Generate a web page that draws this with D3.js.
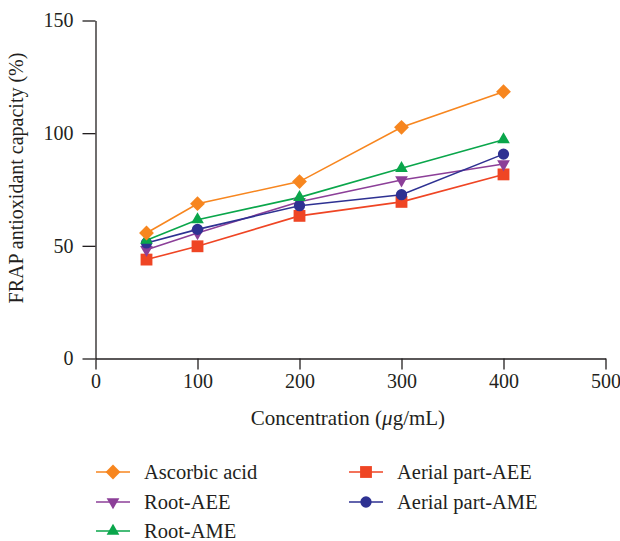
<!DOCTYPE html>
<html><head><meta charset="utf-8">
<script src="https://cdn.jsdelivr.net/npm/d3@7"></script>
<style>body{margin:0;background:#fff}svg{display:block}text{font-family:"Liberation Serif","Times New Roman",serif;fill:#231f20}</style>
</head><body><svg id="c" width="620" height="541"></svg>
<script>
const concentrations = [50, 100, 200, 300, 400];
const seriesNames = ["Ascorbic acid", "Root-AEE", "Root-AME", "Aerial part-AEE", "Aerial part-AME"];
const ascorbicAcid = [55.7, 68.7, 78.5, 102.6, 118.4];
const rootAEE = [48.3, 55.7, 69.6, 79.2, 86.3];
const rootAME = [52.5, 61.6, 71.5, 84.4, 97.1];
const aerialAEE = [43.9, 49.8, 63.3, 69.5, 81.7];
const aerialAME = [51.3, 57.3, 67.8, 72.7, 90.7];
const xTicks = [0, 100, 200, 300, 400, 500];
const yTicks = [0, 50, 100, 150];

const series = [
  {name: seriesNames[0], values: ascorbicAcid, color: "#f7861f", sym: d3.symbolSquare, size: 110, rot: 45},
  {name: seriesNames[1], values: rootAEE, color: "#8c3f98", sym: d3.symbolTriangle, size: 70, rot: 180},
  {name: seriesNames[2], values: rootAME, color: "#0aa64b", sym: d3.symbolTriangle, size: 70, rot: 0},
  {name: seriesNames[3], values: aerialAEE, color: "#ef4524", sym: d3.symbolSquare, size: 140, rot: 0},
  {name: seriesNames[4], values: aerialAME, color: "#2e3192", sym: d3.symbolCircle, size: 100, rot: 0}
];
const drawOrder = [3, 1, 4, 2, 0];

const svg = d3.select("#c");
const x = d3.scaleLinear().domain([0, 500]).range([95.5, 605.5]);
const y = d3.scaleLinear().domain([0, 150]).range([358.5, 20.5]);

const ax = svg.append("g").attr("transform", `translate(0,${y(0)})`)
  .call(d3.axisBottom(x).tickValues(xTicks).tickSize(11).tickSizeOuter(0).tickPadding(4));
const ay = svg.append("g").attr("transform", `translate(${x(0)},0)`)
  .call(d3.axisLeft(y).tickValues(yTicks).tickSize(13).tickSizeOuter(0).tickPadding(9));
[ax, ay].forEach(g => {
  g.select(".domain").attr("stroke", "#231f20").attr("stroke-width", 1.3);
  g.selectAll(".tick line").attr("stroke", "#231f20").attr("stroke-width", 1.3);
  g.selectAll(".tick text").attr("font-size", 20).attr("font-family", "Liberation Serif").attr("fill", "#231f20");
});

const line = d3.line().x((d, i) => x(concentrations[i])).y(d => y(d));
drawOrder.forEach(k => {
  const s = series[k];
  svg.append("path").datum(s.values).attr("d", line).attr("fill", "none")
    .attr("stroke", s.color).attr("stroke-width", 1.6);
});
drawOrder.forEach(k => {
  const s = series[k];
  svg.append("g").selectAll("path").data(s.values).join("path")
    .attr("d", d3.symbol().type(s.sym).size(s.size))
    .attr("transform", (d, i) => `translate(${x(concentrations[i])},${y(d)}) rotate(${s.rot})`)
    .attr("fill", s.color);
});

svg.append("text").attr("x", 348).attr("y", 425).attr("text-anchor", "middle").attr("font-size", 21)
  .html('Concentration (<tspan font-style="italic">μ</tspan>g/mL)');
svg.append("text").attr("transform", "translate(23,178) rotate(-90)").attr("text-anchor", "middle")
  .attr("font-size", 20).text("FRAP antioxidant capacity (%)");

const legendPos = [[96, 472], [96, 502], [96, 531], [349, 472], [349, 502]];
series.forEach((s, i) => {
  const [lx, ly] = legendPos[i];
  const g = svg.append("g");
  g.append("line").attr("x1", lx).attr("x2", lx + 34).attr("y1", ly).attr("y2", ly)
    .attr("stroke", s.color).attr("stroke-width", 1.6);
  g.append("path").attr("d", d3.symbol().type(s.sym).size(s.size))
    .attr("transform", `translate(${lx + 17},${ly}) rotate(${s.rot})`).attr("fill", s.color);
  g.append("text").attr("x", lx + 48).attr("y", ly + 7).attr("font-size", 20.5).text(s.name);
});
</script></body></html>
